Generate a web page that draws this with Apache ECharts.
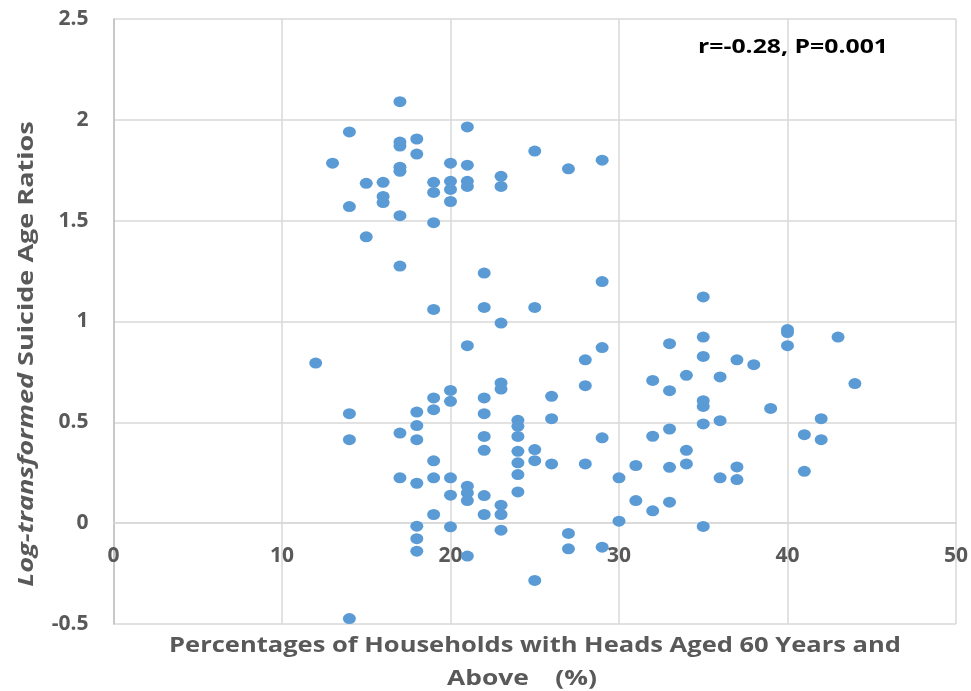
<!DOCTYPE html>
<html>
<head>
<meta charset="utf-8">
<script src="https://cdn.jsdelivr.net/npm/echarts@6/dist/echarts.min.js"></script>
<style>html,body{margin:0;padding:0;background:#fff}#c{width:971px;height:691px}</style>
</head>
<body>
<div id="c"></div>
<script>
const xValues = [17,14,17,17,18,18,13,17,17,21,20,21,15,16,16,16,14,17,19,19,20,20,20,21,21,23,23,25,19,15,17,22,19,22,25,27,29,29,35,23,21,12,23,23,20,20,19,19,22,22,14,18,18,17,18,14,24,24,24,22,22,24,24,24,24,25,25,19,17,19,20,18,21,21,21,20,22,23,23,19,22,18,20,23,18,18,21,25,14,40,40,40,43,35,33,29,28,35,37,38,34,36,32,33,28,26,44,39,35,35,26,35,36,42,33,32,29,41,42,34,26,28,34,31,33,37,30,36,37,41,31,33,32,30,35,27,27,29];
const yValues = [2.09,1.94,1.89,1.87,1.905,1.83,1.785,1.765,1.745,1.965,1.785,1.775,1.685,1.69,1.62,1.59,1.57,1.525,1.69,1.64,1.695,1.655,1.595,1.695,1.67,1.72,1.67,1.845,1.49,1.42,1.275,1.24,1.06,1.07,1.07,1.757,1.80,1.198,1.122,0.992,0.88,0.794,0.695,0.665,0.658,0.604,0.621,0.563,0.621,0.543,0.543,0.551,0.484,0.447,0.414,0.414,0.51,0.48,0.43,0.43,0.361,0.356,0.299,0.241,0.155,0.365,0.31,0.309,0.225,0.225,0.225,0.198,0.183,0.15,0.112,0.139,0.137,0.089,0.043,0.043,0.043,-0.015,-0.018,-0.035,-0.077,-0.139,-0.163,-0.284,-0.473,0.96,0.945,0.88,0.923,0.923,0.89,0.871,0.81,0.827,0.81,0.786,0.733,0.725,0.708,0.657,0.682,0.629,0.692,0.569,0.607,0.579,0.518,0.492,0.508,0.518,0.467,0.431,0.423,0.439,0.414,0.361,0.294,0.294,0.294,0.286,0.277,0.279,0.225,0.225,0.216,0.257,0.112,0.104,0.061,0.01,-0.016,-0.051,-0.127,-0.119];
const xTitleLines = ['Percentages of Households with Heads Aged 60 Years and', 'Above\u3000(%)'];
const yTitleItalic = 'Log-transformed';
const yTitleRest = ' Suicide Age Ratios';
const annotation = 'r=-0.28, P=0.001';
const xMin = 0, xMax = 50, xStep = 10;
const yMin = -0.5, yMax = 2.5, yStep = 0.5;

const points = xValues.map((x, i) => [x, yValues[i]]);
const FONT = '"Open Sans"';
const gridTop = 19, gridBottom = 67, H = 691;
const plotH = H - gridTop - gridBottom;
// shift x-axis up so it sits on y = 0
const zeroOffset = -plotH * (0 - yMin) / (yMax - yMin);

const chart = echarts.init(document.getElementById('c'), null, {renderer: 'canvas'});
chart.setOption({
  animation: false,
  backgroundColor: '#ffffff',
  grid: {left: 113.5, right: 15, top: gridTop, bottom: gridBottom, containLabel: false},
  xAxis: {
    type: 'value', min: xMin, max: xMax, interval: xStep,
    offset: zeroOffset,
    axisLine: {show: true, onZero: false, lineStyle: {color: '#d9d9d9', width: 1.5}},
    axisTick: {show: false},
    axisLabel: {color: '#595959', fontFamily: FONT, fontWeight: 'bold', fontSize: 21, margin: 22},
    splitLine: {show: true, lineStyle: {color: '#d9d9d9', width: 1.5}}
  },
  yAxis: {
    type: 'value', min: yMin, max: yMax, interval: yStep,
    axisLine: {show: true, onZero: false, lineStyle: {color: '#bfbfbf', width: 1.5}},
    axisTick: {show: false},
    axisLabel: {color: '#595959', fontFamily: FONT, fontWeight: 'bold', fontSize: 21, margin: 25},
    splitLine: {show: true, lineStyle: {color: '#d9d9d9', width: 1.5}}
  },
  graphic: [
    {type: 'text', silent: true, x: 793, y: 47, scaleX: 1.24,
     style: {text: annotation, align: 'center', verticalAlign: 'middle', fill: '#000', font: 'bold 20px ' + FONT}},
    {type: 'text', silent: true, x: 535, y: 646, scaleX: 1.16,
     style: {text: xTitleLines[0], align: 'center', verticalAlign: 'middle', fill: '#595959', font: 'bold 22px ' + FONT}},
    {type: 'text', silent: true, x: 522, y: 679, scaleX: 1.2,
     style: {text: xTitleLines[1], align: 'center', verticalAlign: 'middle', fill: '#595959', font: 'bold 22px ' + FONT}},
    {type: 'text', silent: true, x: 27, y: 354, rotation: Math.PI / 2, scaleX: 1.23,
     style: {text: '{i|' + yTitleItalic + '}{n|' + yTitleRest + '}', align: 'center', verticalAlign: 'middle',
       rich: {i: {fontStyle: 'italic', fontWeight: 'bold', fontSize: 22, fontFamily: FONT, fill: '#595959'},
              n: {fontWeight: 'bold', fontSize: 22, fontFamily: FONT, fill: '#595959'}}}}
  ],
  series: [{
    type: 'scatter',
    data: points,
    symbol: 'circle',
    symbolSize: [13, 11],
    itemStyle: {color: '#5b9bd5', opacity: 1}
  }]
});
</script>
</body>
</html>
